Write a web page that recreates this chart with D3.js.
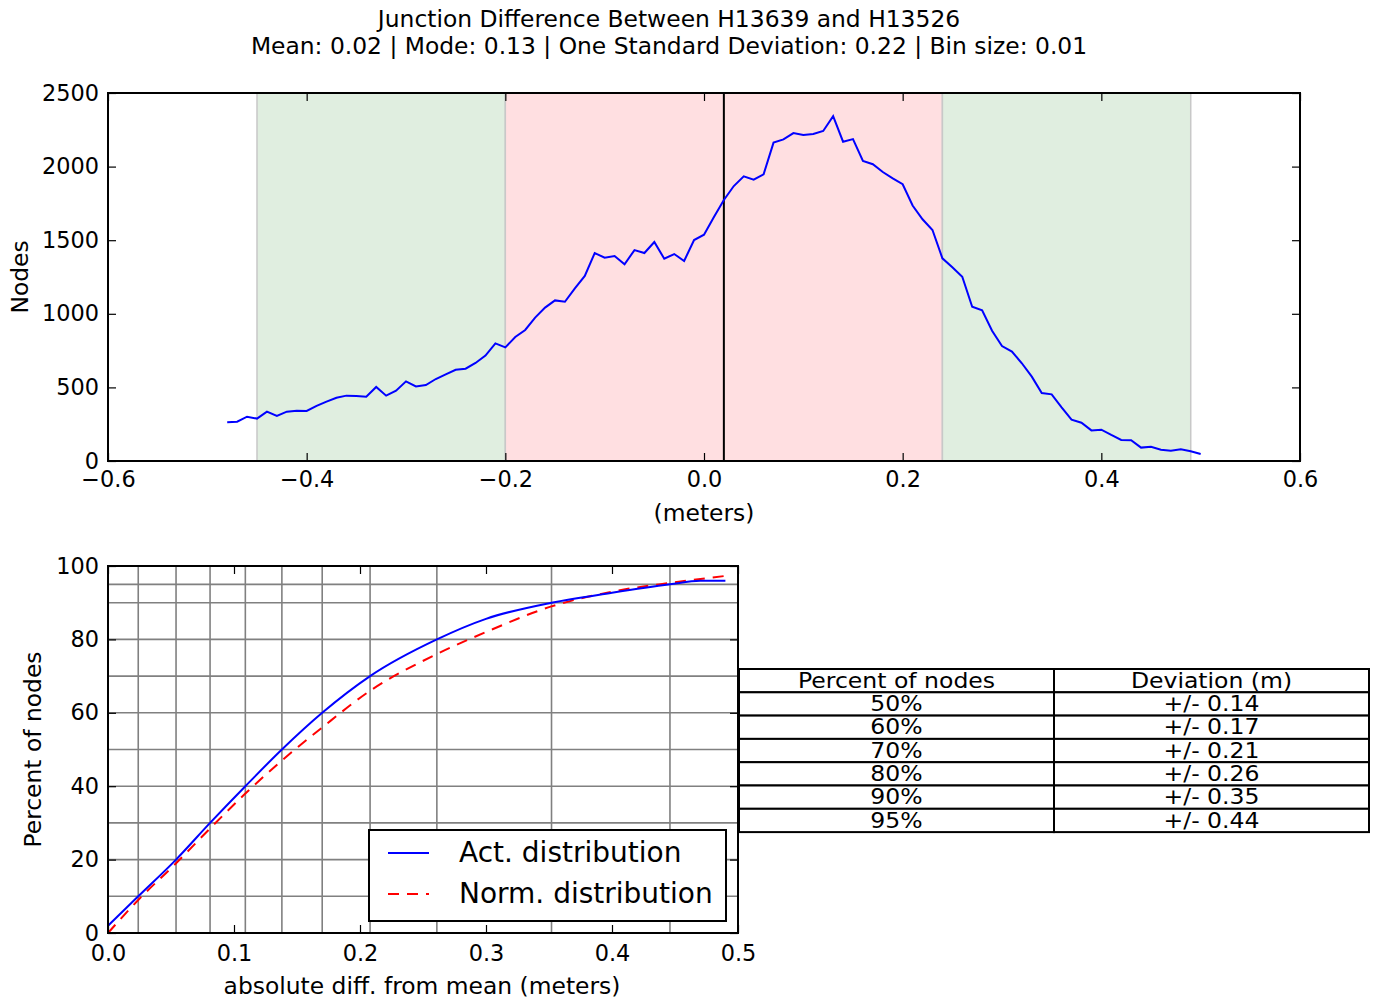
<!doctype html>
<html lang="en">
<head>
<meta charset="UTF-8">
<title>Junction Difference</title>
<script src="https://cdn.jsdelivr.net/npm/d3@7"></script>
<style>
    body { margin: 0; background: #fff; }
    svg { display: block; font-family: "DejaVu Sans", sans-serif; }
    .axis text { font-family: "DejaVu Sans", sans-serif; font-size: 22.4px; fill: #000; }
    .axis line { stroke: #000; stroke-width: 1.2; }
</style>
</head>
<body>
<script>
    // histogram of junction differences (bin size 0.01)
    var binStart = -0.48;
    var binStep = 0.01;
    var nodeCounts = [263, 267, 301, 288, 335, 306, 335, 342, 340, 374, 403, 430, 444, 442, 437, 503, 444, 478, 541, 507,
        516, 557, 589, 620, 627, 666, 716, 799, 772, 842, 890, 974, 1042, 1091, 1082, 1173, 1257, 1413, 1381, 1393,
        1336, 1433, 1413, 1488, 1374, 1406, 1359, 1501, 1537, 1658, 1773, 1868, 1934, 1911, 1948, 2163, 2185, 2228, 2215, 2221,
        2242, 2342, 2169, 2187, 2038, 2016, 1963, 1920, 1880, 1736, 1642, 1569, 1377, 1316, 1252, 1048, 1024, 885, 781, 743,
        664, 573, 462, 453, 365, 281, 260, 208, 213, 177, 143, 141, 91, 97, 77, 70, 79, 66, 48];

    var meanValue = 0.02;
    var oneStdBand = [-0.20, 0.24];
    var outerBand = [-0.45, 0.49];

    // cumulative curves
    var actDist = [[0, 2], [0.024, 10], [0.054, 20], [0.081, 30], [0.109, 40], [0.138, 50], [0.170, 60],
        [0.208, 70], [0.261, 80], [0.30, 85.6], [0.352, 90], [0.40, 92.7], [0.446, 95], [0.47, 96], [0.49, 96]];
    var normDist = [[0, 0], [0.024, 9], [0.054, 19], [0.081, 28.5], [0.109, 38], [0.138, 47], [0.170, 56],
        [0.208, 66], [0.261, 76], [0.30, 82], [0.352, 89], [0.40, 93], [0.446, 95.4], [0.49, 97.3]];

    var gridPercents = [10, 20, 30, 40, 50, 60, 70, 80, 90, 95];
    var gridDeviations = [0.024, 0.054, 0.081, 0.109, 0.138, 0.170, 0.208, 0.261, 0.352, 0.446];

    var tableHeader = ["Percent of nodes", "Deviation (m)"];
    var tablePercents = ["50%", "60%", "70%", "80%", "90%", "95%"];
    var tableDeviations = ["+/- 0.14", "+/- 0.17", "+/- 0.21", "+/- 0.26", "+/- 0.35", "+/- 0.44"];

    var w = 1382, h = 1003;
    var svg = d3.select("body").append("svg").attr("width", w).attr("height", h);

    // title
    svg.append("text").attr("x", 669).attr("y", 27).attr("text-anchor", "middle")
        .attr("font-size", "23.4px").text("Junction Difference Between H13639 and H13526");
    svg.append("text").attr("x", 669).attr("y", 54).attr("text-anchor", "middle")
        .attr("font-size", "23.4px").text("Mean: 0.02 | Mode: 0.13 | One Standard Deviation: 0.22 | Bin size: 0.01");

    function inwardAxes(g, x, y, left, right, top, bottom, xTicks, yTicks, xFmt, yFmt, xPad) {
        g.append("g").attr("class", "axis").attr("transform", "translate(0," + bottom + ")")
            .call(d3.axisBottom(x).tickValues(xTicks).tickSize(-8).tickPadding(xPad).tickFormat(xFmt))
            .call(function (a) { a.select(".domain").remove(); });
        g.append("g").attr("class", "axis").attr("transform", "translate(0," + top + ")")
            .call(d3.axisTop(x).tickValues(xTicks).tickSize(-8).tickFormat(""))
            .call(function (a) { a.select(".domain").remove(); });
        g.append("g").attr("class", "axis").attr("transform", "translate(" + left + ",0)")
            .call(d3.axisLeft(y).tickValues(yTicks).tickSize(-8).tickPadding(9).tickFormat(yFmt))
            .call(function (a) { a.select(".domain").remove(); });
        g.append("g").attr("class", "axis").attr("transform", "translate(" + right + ",0)")
            .call(d3.axisRight(y).tickValues(yTicks).tickSize(-8).tickFormat(""))
            .call(function (a) { a.select(".domain").remove(); });
        g.append("rect").attr("x", left).attr("y", top).attr("width", right - left).attr("height", bottom - top)
            .attr("fill", "none").attr("stroke", "#000").attr("stroke-width", 2);
    }

    // ---------- top chart ----------
    var t = {left: 108, right: 1300, top: 93, bottom: 461};
    var x1 = d3.scaleLinear().domain([-0.6, 0.6]).range([t.left, t.right]);
    var y1 = d3.scaleLinear().domain([0, 2500]).range([t.bottom, t.top]);
    var topG = svg.append("g");

    var bands = [
        {a: outerBand[0], b: oneStdBand[0], c: "#e0eee0"},
        {a: oneStdBand[0], b: oneStdBand[1], c: "#ffdfe1"},
        {a: oneStdBand[1], b: outerBand[1], c: "#e0eee0"}
    ];
    topG.selectAll("rect.band").data(bands).enter().append("rect").attr("class", "band")
        .attr("x", function (d) { return x1(d.a); })
        .attr("width", function (d) { return x1(d.b) - x1(d.a); })
        .attr("y", t.top).attr("height", t.bottom - t.top)
        .attr("fill", function (d) { return d.c; })
        .attr("stroke", "#c8c8c8").attr("stroke-width", 1.5);

    topG.append("line").attr("x1", x1(meanValue)).attr("x2", x1(meanValue))
        .attr("y1", t.top).attr("y2", t.bottom).attr("stroke", "#000").attr("stroke-width", 2);

    var histLine = d3.line()
        .x(function (d, i) { return x1(binStart + i * binStep); })
        .y(function (d) { return y1(d); });
    topG.append("path").datum(nodeCounts).attr("d", histLine)
        .attr("fill", "none").attr("stroke", "#0000ff").attr("stroke-width", 2);

    inwardAxes(topG, x1, y1, t.left, t.right, t.top, t.bottom,
        [-0.6, -0.4, -0.2, 0, 0.2, 0.4, 0.6], [0, 500, 1000, 1500, 2000, 2500],
        d3.format(".1f"), d3.format("d"), 10);

    topG.append("text").attr("x", x1(0)).attr("y", 521).attr("text-anchor", "middle")
        .attr("font-size", "23.4px").text("(meters)");
    topG.append("text").attr("transform", "translate(28," + ((t.top + t.bottom) / 2) + ") rotate(-90)")
        .attr("text-anchor", "middle").attr("font-size", "23.4px").text("Nodes");

    // ---------- bottom chart ----------
    var b = {left: 108, right: 738, top: 566, bottom: 933};
    var x2 = d3.scaleLinear().domain([0, 0.5]).range([b.left, b.right]);
    var y2 = d3.scaleLinear().domain([0, 100]).range([b.bottom, b.top]);
    var bot = svg.append("g");

    bot.selectAll("line.vgrid").data(gridDeviations).enter().append("line").attr("class", "vgrid")
        .attr("x1", function (d) { return x2(d); }).attr("x2", function (d) { return x2(d); })
        .attr("y1", b.top).attr("y2", b.bottom).attr("stroke", "#808080").attr("stroke-width", 1.6);
    bot.selectAll("line.hgrid").data(gridPercents).enter().append("line").attr("class", "hgrid")
        .attr("y1", function (d) { return y2(d); }).attr("y2", function (d) { return y2(d); })
        .attr("x1", b.left).attr("x2", b.right).attr("stroke", "#808080").attr("stroke-width", 1.6);

    var cdfLine = d3.line().curve(d3.curveMonotoneX)
        .x(function (d) { return x2(d[0]); })
        .y(function (d) { return y2(d[1]); });
    bot.append("path").datum(normDist).attr("d", cdfLine)
        .attr("fill", "none").attr("stroke", "#ff0000").attr("stroke-width", 2).attr("stroke-dasharray", "11,8");
    bot.append("path").datum(actDist).attr("d", cdfLine)
        .attr("fill", "none").attr("stroke", "#0000ff").attr("stroke-width", 2);

    inwardAxes(bot, x2, y2, b.left, b.right, b.top, b.bottom,
        [0, 0.1, 0.2, 0.3, 0.4, 0.5], [0, 20, 40, 60, 80, 100],
        d3.format(".1f"), d3.format("d"), 12);

    bot.append("text").attr("x", (b.left + b.right) / 2 - 1).attr("y", 994).attr("text-anchor", "middle")
        .attr("font-size", "23.4px").text("absolute diff. from mean (meters)");
    bot.append("text").attr("transform", "translate(41," + ((b.top + b.bottom) / 2) + ") rotate(-90)")
        .attr("text-anchor", "middle").attr("font-size", "23.4px").text("Percent of nodes");

    // legend
    var lg = bot.append("g");
    lg.append("rect").attr("x", 369).attr("y", 830).attr("width", 357).attr("height", 91)
        .attr("fill", "#fff").attr("stroke", "#000").attr("stroke-width", 2);
    var legendItems = [
        {label: "Act. distribution", color: "#0000ff", dash: null},
        {label: "Norm. distribution", color: "#ff0000", dash: "11,8"}
    ];
    lg.selectAll("line.key").data(legendItems).enter().append("line").attr("class", "key")
        .attr("x1", 388).attr("x2", 429)
        .attr("y1", function (d, i) { return 853 + i * 41; }).attr("y2", function (d, i) { return 853 + i * 41; })
        .attr("stroke", function (d) { return d.color; }).attr("stroke-width", 2)
        .attr("stroke-dasharray", function (d) { return d.dash; });
    lg.selectAll("text.key").data(legendItems).enter().append("text").attr("class", "key")
        .attr("x", 459).attr("y", function (d, i) { return 862 + i * 41; })
        .attr("font-size", "28px").text(function (d) { return d.label; });

    // table
    var tb = svg.append("g");
    var tx = [739, 1054, 1369];
    var rowH = 23.3, tTop = 669;
    var rows = [tableHeader].concat(tablePercents.map(function (p, i) { return [p, tableDeviations[i]]; }));
    rows.forEach(function (r, i) {
        var yy = tTop + i * rowH;
        for (var c = 0; c < 2; c++) {
            tb.append("rect").attr("x", tx[c]).attr("y", yy).attr("width", tx[c + 1] - tx[c]).attr("height", rowH)
                .attr("fill", "#fff").attr("stroke", "#000").attr("stroke-width", 2);
        }
    });
    rows.forEach(function (r, i) {
        var yy = tTop + i * rowH;
        for (var c = 0; c < 2; c++) {
            tb.append("text")
                .attr("transform", "translate(" + ((tx[c] + tx[c + 1]) / 2) + "," + (yy + rowH - 4.5) + ") scale(1.07,1)")
                .attr("text-anchor", "middle").attr("font-size", "22px").text(r[c]);
        }
    });
</script>
</body>
</html>
